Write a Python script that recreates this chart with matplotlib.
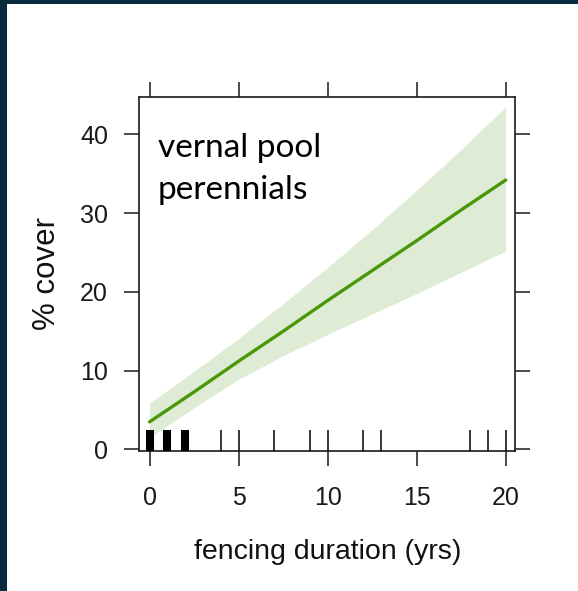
import matplotlib
matplotlib.use("Agg")
import matplotlib.pyplot as plt
import matplotlib.transforms as mtransforms
from matplotlib.patches import Rectangle

# ---- data ----
x_grid = [0, 2.5, 5, 7.5, 10, 12.5, 15, 17.5, 20]
fit = [3.5, 7.3, 11.2, 15.0, 18.9, 22.7, 26.5, 30.4, 34.2]
upper = [5.9, 9.9, 14.1, 18.5, 23.1, 27.9, 32.9, 38.1, 43.5]
lower = [1.5, 5.3, 8.9, 11.9, 14.6, 17.2, 19.8, 22.5, 25.2]
rug_x = [0, 1, 2, 4, 5, 7, 9, 10, 12, 13, 18, 19, 20]
rug_n = [8, 6, 5, 1, 1, 1, 1, 1, 1, 1, 1, 1, 1]
x_ticks = [0, 5, 10, 15, 20]
y_ticks = [0, 10, 20, 30, 40]
panel_label = "vernal pool\nperennials"
x_label = "fencing duration (yrs)"
y_label = "% cover"

fig = plt.figure(figsize=(5.78, 5.91), dpi=100)
fig.patch.set_facecolor("white")
navy = "#082a3e"
fig.patches.append(Rectangle((0, 0), 7 / 578, 1, transform=fig.transFigure,
                             facecolor=navy, edgecolor="none", zorder=-10))
fig.patches.append(Rectangle((0, 1 - 3.5 / 591), 1, 3.5 / 591, transform=fig.transFigure,
                             facecolor=navy, edgecolor="none", zorder=-10))

ax = fig.add_axes([139.3 / 578, 1 - 450.5 / 591, (515.3 - 139.3) / 578, (450.5 - 97.3) / 591])
ax.set_facecolor("white")

ax.fill_between(x_grid, lower, upper, color="#dfecd5", linewidth=0, zorder=1)
ax.plot(x_grid, fit, color="#4a980a", linewidth=2.4, zorder=2, solid_capstyle="round")

trans = mtransforms.blended_transform_factory(ax.transData, ax.transAxes)
for xv, n in zip(rug_x, rug_n):
    lw = 1.1 if n == 1 else 5.8
    ax.plot([xv, xv], [0, 20 / 353], transform=trans, color="black", linewidth=lw,
            solid_capstyle="butt", zorder=3, clip_on=False)

ax.set_xlim(-0.573, 20.54)
ax.set_ylim(-0.13, 44.7)

ax.set_xticks(x_ticks)
ax.set_yticks(y_ticks)
ax.tick_params(axis="both", which="both", direction="out", length=10.5, width=1.1,
               color="#1a1a1a", labelsize=18, labelcolor="#1a1a1a",
               top=True, right=True, labeltop=False, labelright=False)
ax.tick_params(axis="x", pad=15)
ax.tick_params(axis="y", pad=12)
for lab in ax.get_xticklabels() + ax.get_yticklabels():
    lab.set_fontfamily("Liberation Sans")
for s in ax.spines.values():
    s.set_linewidth(1.2)
    s.set_color("#1a1a1a")

ax.set_xlabel(x_label, fontsize=20.5, family="Liberation Sans", color="#111111", labelpad=21)
ax.set_ylabel(y_label, fontsize=22.5, family="Liberation Sans", color="#111111", labelpad=13)

ax.text(158 / 578, 1 - 133 / 591, panel_label, transform=fig.transFigure,
        fontsize=24, family="Lato", color="black", va="top", ha="left",
        linespacing=1.5)

fig.savefig("out.png", dpi=100, facecolor=fig.get_facecolor())
